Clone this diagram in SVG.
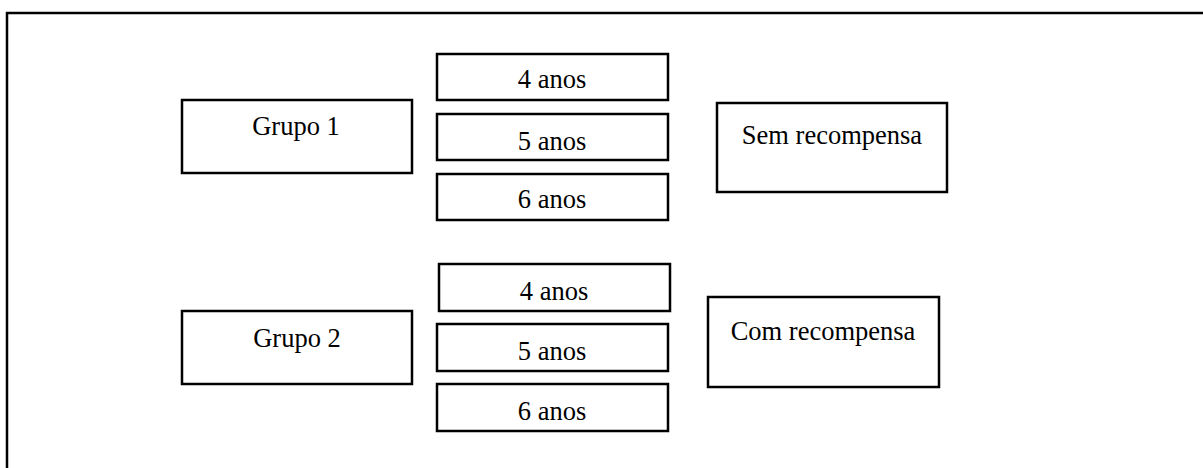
<svg xmlns="http://www.w3.org/2000/svg" width="1203" height="468" viewBox="0 0 1203 468">
  <style>
    .box { fill: #ffffff; stroke: #000000; stroke-width: 2.5; }
    .frame { fill: none; stroke: #000000; stroke-width: 2.5; }
    .label { font-family: "Liberation Serif", "Times New Roman", serif; font-size: 26.5px; fill: #000000; text-anchor: middle; }
  </style>
  <rect width="1203" height="468" fill="#ffffff"/>
  <!-- outer frame, open to the right and bottom -->
  <path class="frame" d="M7 480 V13 H1215"/>

  <g id="grupo1">
    <rect class="box" x="182" y="100" width="230" height="73"/>
    <text class="label" x="296" y="135">Grupo 1</text>
  </g>
  <g id="g1-4anos">
    <rect class="box" x="437" y="54" width="231" height="46"/>
    <text class="label" x="552" y="88">4 anos</text>
  </g>
  <g id="g1-5anos">
    <rect class="box" x="437" y="114" width="231" height="46"/>
    <text class="label" x="552" y="150">5 anos</text>
  </g>
  <g id="g1-6anos">
    <rect class="box" x="437" y="174" width="231" height="46"/>
    <text class="label" x="552" y="208">6 anos</text>
  </g>
  <g id="sem-recompensa">
    <rect class="box" x="717" y="103" width="230" height="89"/>
    <text class="label" x="832" y="144">Sem recompensa</text>
  </g>

  <g id="grupo2">
    <rect class="box" x="182" y="311" width="230" height="73"/>
    <text class="label" x="297" y="347">Grupo 2</text>
  </g>
  <g id="g2-4anos">
    <rect class="box" x="439" y="264" width="231" height="47"/>
    <text class="label" x="554" y="300">4 anos</text>
  </g>
  <g id="g2-5anos">
    <rect class="box" x="437" y="324" width="231" height="47"/>
    <text class="label" x="552" y="360">5 anos</text>
  </g>
  <g id="g2-6anos">
    <rect class="box" x="437" y="384" width="231" height="47"/>
    <text class="label" x="552" y="420">6 anos</text>
  </g>
  <g id="com-recompensa">
    <rect class="box" x="708" y="297" width="231" height="90"/>
    <text class="label" x="823" y="340">Com recompensa</text>
  </g>

  <g id="connectors"></g>
</svg>
